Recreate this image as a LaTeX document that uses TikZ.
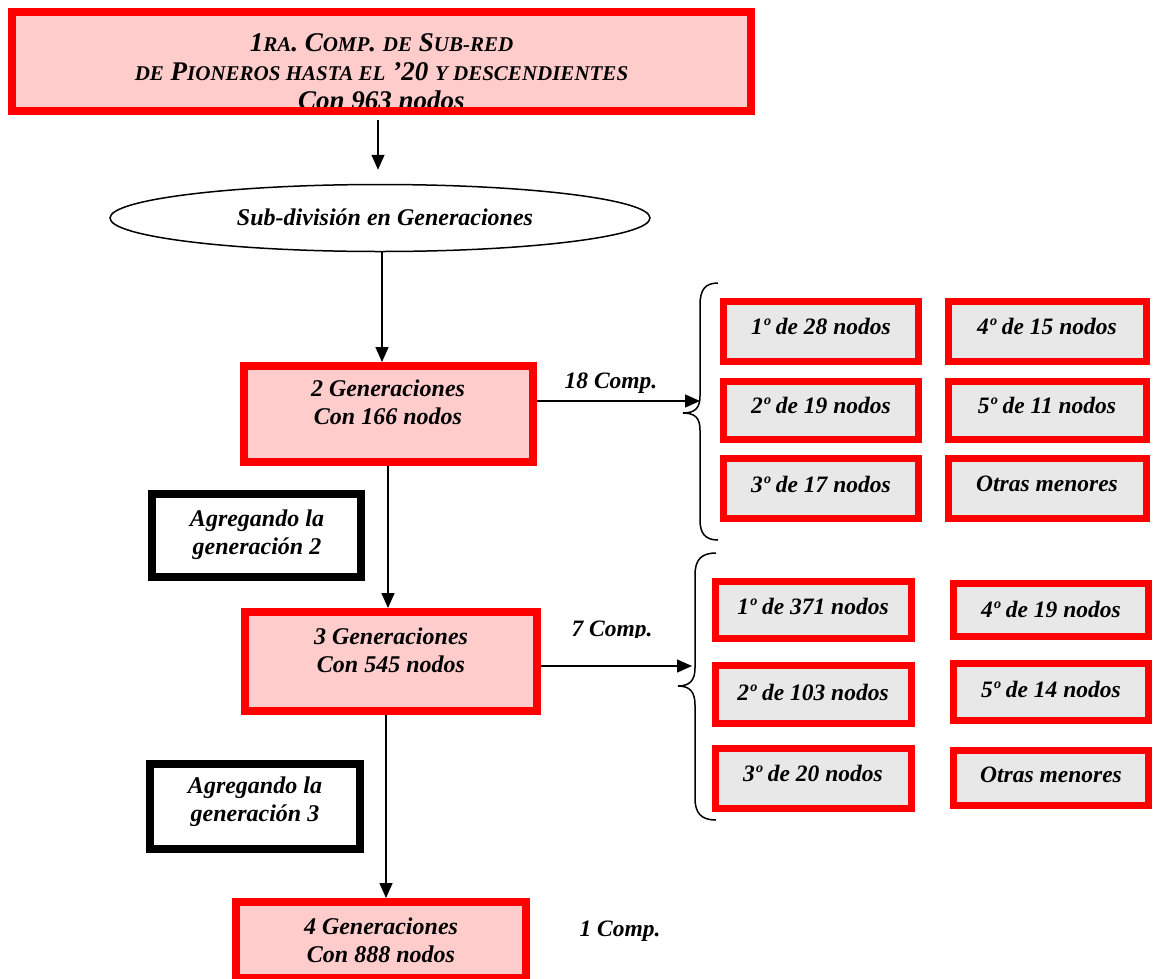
\documentclass[tikz,border=0pt]{standalone}
\usepackage{fontspec}
\setmainfont{Liberation Serif}[Ligatures=Common]
\usetikzlibrary{arrows.meta,shapes.geometric}
\definecolor{pinkfill}{HTML}{FFCCCC}
\definecolor{grayfill}{HTML}{E8E8E8}
\newcommand{\smc}[1]{{\fontsize{21}{29}\selectfont #1}}
\tikzset{
  bigred/.style={draw=red, line width=8pt, fill=pinkfill, inner sep=0pt},
  smallred/.style={draw=red, line width=7pt, fill=grayfill, inner sep=0pt},
  blackbox/.style={draw=black, line width=8pt, fill=white, inner sep=0pt},
  txt/.style={font=\fontsize{24}{28}\selectfont\bfseries\itshape, align=center, inner sep=0pt},
  stxt/.style={font=\fontsize{23.5}{26}\selectfont\bfseries\itshape, inner sep=0pt},
  arr/.style={line width=1.5pt, -{Triangle[length=15pt,width=13pt]}},
  brace/.style={line width=1.5pt}
}
\begin{document}
\begin{tikzpicture}[x=1pt,y=-1pt]
\useasboundingbox (0,0) rectangle (1154,978);
% title
\node[bigred, minimum width=739pt, minimum height=99pt] (title) at (381.5,61.5) {};
\begin{scope}
\clip (0,0) rectangle (1154,106);
\node[txt, font=\fontsize{27}{29}\selectfont\bfseries\itshape] (titlet) at (381.5,72)
 {1\smc{RA}. C\smc{OMP}. \smc{DE} S\smc{UB-RED}\\ \smc{DE} P\smc{IONEROS HASTA EL} '20 \smc{Y DESCENDIENTES}\\ Con 963 nodos};
\end{scope}
% ellipse
\node[ellipse, draw, line width=1.5pt, minimum width=540pt, minimum height=67pt, inner sep=0pt] (sub) at (380,218) {};
\node[txt] (subt) at (385,217) {Sub-división en Generaciones};
% generation boxes
\node[bigred, minimum width=289pt, minimum height=96pt] (g2) at (388.5,414) {};
\node[txt] (g2t) at (388,402) {2 Generaciones\\Con 166 nodos};
\node[bigred, minimum width=292pt, minimum height=99pt] (g3) at (391,661.5) {};
\node[txt] (g3t) at (391,650) {3 Generaciones\\Con 545 nodos};
\node[bigred, minimum width=290pt, minimum height=76pt] (g4) at (381,940) {};
\node[txt] (g4t) at (381,940) {4 Generaciones\\Con 888 nodos};
% agregando boxes
\node[blackbox, minimum width=209pt, minimum height=83pt] (ag2) at (256.5,535.5) {};
\node[txt] (ag2t) at (257,535) {Agregando la\\generación 2};
\node[blackbox, minimum width=210pt, minimum height=85pt] (ag3) at (255,806.5) {};
\node[txt] (ag3t) at (255,802) {Agregando la\\generación 3};
% group 1
\node[smallred, minimum width=195pt, minimum height=60pt] (a1) at (821,331.5) {};
\node[stxt] (a1t) at (821,326) {1º de 28 nodos};
\node[smallred, minimum width=198pt, minimum height=60pt] (a4) at (1047.5,331.5) {};
\node[stxt] (a4t) at (1047,326) {4º de 15 nodos};
\node[smallred, minimum width=195pt, minimum height=58pt] (a2) at (821,410.5) {};
\node[stxt] (a2t) at (821,405) {2º de 19 nodos};
\node[smallred, minimum width=198pt, minimum height=58pt] (a5) at (1047.5,410.5) {};
\node[stxt] (a5t) at (1047,405) {5º de 11 nodos};
\node[smallred, minimum width=195pt, minimum height=60pt] (a3) at (821,488.5) {};
\node[stxt] (a3t) at (821,484) {3º de 17 nodos};
\node[smallred, minimum width=198pt, minimum height=60pt] (a6) at (1047.5,488.5) {};
\node[stxt] (a6t) at (1047,484) {Otras menores};
% group 2
\node[smallred, minimum width=196pt, minimum height=57pt] (c1) at (813.5,610) {};
\node[stxt] (c1t) at (813,606) {1º de 371 nodos};
\node[smallred, minimum width=195pt, minimum height=53pt] (c4) at (1051,610) {};
\node[stxt] (c4t) at (1051,609) {4º de 19 nodos};
\node[smallred, minimum width=196pt, minimum height=58pt] (c2) at (813.5,694.5) {};
\node[stxt] (c2t) at (813,692) {2º de 103 nodos};
\node[smallred, minimum width=195pt, minimum height=57pt] (c5) at (1051,692) {};
\node[stxt] (c5t) at (1051,689) {5º de 14 nodos};
\node[smallred, minimum width=196pt, minimum height=60pt] (c3) at (813.5,778.5) {};
\node[stxt] (c3t) at (813,773) {3º de 20 nodos};
\node[smallred, minimum width=195pt, minimum height=55pt] (c6) at (1051,778) {};
\node[stxt] (c6t) at (1051,775) {Otras menores};
% labels
\node[stxt] (l18) at (611,383) {18 Comp.};
\begin{scope}
\clip (500,600) rectangle (700,637);
\node[stxt] (l7) at (612,631) {7 Comp.};
\end{scope}
\node[stxt] (l1) at (620,931) {1 Comp.};
% braces
\coordinate (b1) at (700,401);
\coordinate (b2) at (692,666);
\draw[brace] (718,283) .. controls (705,283) and (700,290) .. (700,305) -- (700,396)
  .. controls (700,408) and (695,413) .. (683,413)
  .. controls (695,413) and (700,418) .. (700,430) -- (700,520)
  .. controls (700,533) and (705,540) .. (718,540);
\draw[brace] (716,553) .. controls (701,553) and (695,560) .. (695,575) -- (695,668)
  .. controls (695,680) and (690,686) .. (678,686)
  .. controls (690,686) and (695,692) .. (695,705) -- (695,798)
  .. controls (695,813) and (701,820) .. (716,820);
% connectors
\draw[arr, shorten <=5pt, shorten >=14pt] (title.south -| 378,0) -- (sub.north -| 378,0);
\draw[arr] (sub.south -| 382,0) -- (g2.north -| 382,0);
\draw[arr] (g2.south -| 388,0) -- (g3.north -| 388,0);
\draw[arr] (g3.south -| 386,0) -- (g4.north -| 386,0);
\draw[arr] (g2.east |- b1) -- (b1);
\draw[arr] (g3.east |- b2) -- (b2);
\end{tikzpicture}
\end{document}
